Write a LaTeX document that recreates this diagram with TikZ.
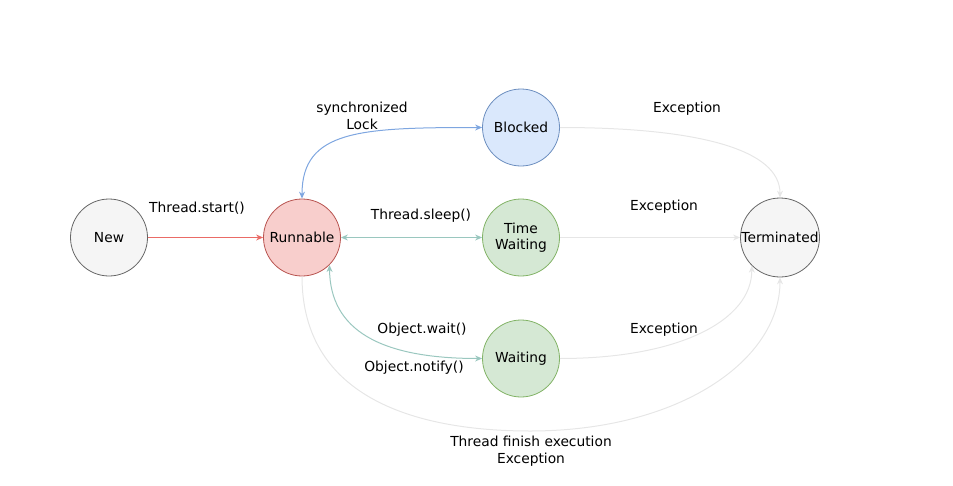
\documentclass[tikz,border=0pt]{standalone}
\usepackage{fontspec}
\setmainfont{DejaVu Sans}
\usetikzlibrary{arrows.meta}
\definecolor{grayfill}{HTML}{F5F5F5}
\definecolor{graystroke}{HTML}{666666}
\definecolor{redfill}{HTML}{F8CECC}
\definecolor{redstroke}{HTML}{B85450}
\definecolor{bluefill}{HTML}{DAE8FC}
\definecolor{bluestroke}{HTML}{6C8EBF}
\definecolor{greenfill}{HTML}{D5E8D4}
\definecolor{greenstroke}{HTML}{82B366}
\definecolor{redline}{HTML}{EA6B66}
\definecolor{blueline}{HTML}{7EA6E0}
\definecolor{tealline}{HTML}{9AC7BF}
\definecolor{lightline}{HTML}{E6E6E6}
\tikzset{
  state/.style={circle, draw, line width=0.8pt, minimum size=77pt, inner sep=0pt, align=center, font=\fontsize{13.8}{16}\selectfont},
  lbl/.style={align=center, font=\fontsize{13.8}{17}\selectfont, inner sep=0pt},
  arr/.style={line width=1pt, -{Stealth[length=7pt,width=6pt]}},
  darr/.style={line width=1pt, {Stealth[length=7pt,width=6pt]}-{Stealth[length=7pt,width=6pt]}},
}
\begin{document}
\begin{tikzpicture}[x=1pt,y=-1pt]
\useasboundingbox (0,0) rectangle (953,485);
\node[state, fill=grayfill, draw=graystroke] (new) at (109,237.5) {New};
\node[state, fill=redfill, draw=redstroke] (run) at (302,237.5) {Runnable};
\node[state, fill=bluefill, draw=bluestroke] (blk) at (521,127.5) {Blocked};
\node[state, fill=greenfill, draw=greenstroke] (tw) at (521,237.5) {Time\\Waiting};
\node[state, fill=greenfill, draw=greenstroke] (wt) at (521,358.5) {Waiting};
\node[state, fill=grayfill, draw=graystroke, minimum size=79pt] (term) at (780,237.5) {Terminated};

\coordinate (mid) at (530,431);

\draw[arr, color=redline] (new) -- (run);
\draw[darr, color=blueline] (run.90) .. controls (302,130) and (360,127.5) .. (blk.180);
\draw[darr, color=tealline] (run) -- (tw);
\draw[darr, color=tealline] (run.-45) .. controls (330,330) and (380,358.5) .. (wt.180);
\draw[arr, color=lightline] (blk.0) .. controls (700,127.5) and (780,150) .. (term.90);
\draw[arr, color=lightline] (tw) -- (term);
\draw[arr, color=lightline] (wt.0) .. controls (680,358.5) and (752,320) .. (term.-135);
\draw[line width=1pt, color=lightline] (run.-90) .. controls (302,400) and (420,431) .. (mid);
\draw[arr, color=lightline] (mid) .. controls (680,431) and (780,360) .. (term.-90);

\node[lbl] (l1) at (197,208) {Thread.start()};
\node[lbl] (l2) at (362,116) {synchronized\\Lock};
\node[lbl] (l3) at (421,216) {Thread.sleep()};
\node[lbl] (l4) at (422,330) {Object.wait()};
\node[lbl] (l5) at (414,368) {Object.notify()};
\node[lbl] (l6) at (687,109) {Exception};
\node[lbl] (l7) at (664,207) {Exception};
\node[lbl] (l8) at (664,330) {Exception};
\node[lbl] (l9) at (531,451) {Thread finish execution\\Exception};
\end{tikzpicture}
\end{document}
